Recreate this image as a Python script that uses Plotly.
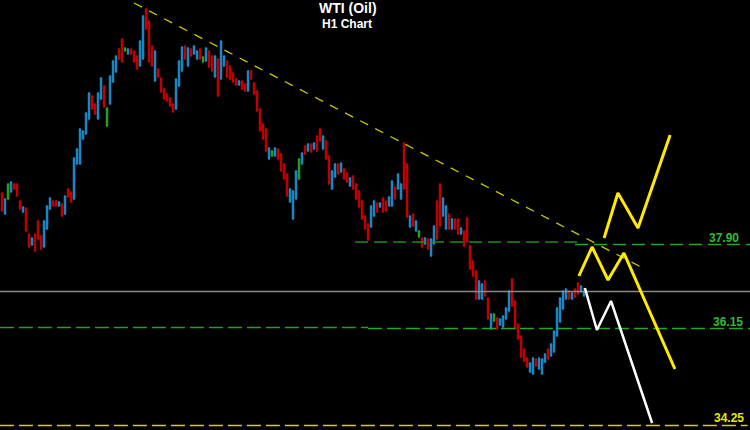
import plotly.graph_objects as go

# ---------------- data (H1 bars, index = hour number) ----------------
open_ = [38.88,38.46,38.76,38.90,39.06,39.06,38.72,38.50,38.58,38.06,37.84,38.06,38.32,38.02,37.80,38.16,38.56,38.72,38.72,38.62,
         38.66,38.46,38.96,38.90,38.76,39.46,39.46,39.96,40.06,40.36,40.82,40.66,40.36,40.76,41.02,40.22,40.66,41.10,41.30,41.76,
         41.96,41.72,41.66,41.76,41.72,41.62,41.42,41.56,42.56,42.32,41.82,41.12,41.36,41.18,40.96,40.86,40.78,40.66,40.56,41.02,
         41.32,41.82,41.42,41.76,41.66,41.56,41.76,41.50,41.52,41.72,41.62,41.20,41.56,41.16,41.42,41.52,41.42,41.28,41.16,41.04,
         41.12,41.06,40.92,41.32,41.08,40.92,40.56,40.26,40.16,39.56,39.62,39.62,39.76,39.66,39.46,39.26,38.70,38.36,38.76,39.16,
         39.46,39.82,39.72,39.86,39.76,40.02,40.16,39.76,39.92,39.62,38.96,39.20,39.46,39.30,39.36,39.28,39.02,39.22,39.06,38.92,
         38.72,38.42,38.26,38.20,38.42,38.68,38.60,38.78,38.72,38.62,38.62,39.00,38.96,38.76,39.88,39.46,38.20,38.46,38.12,38.00,
         37.98,37.86,37.96,37.62,37.86,38.72,39.06,38.42,38.16,38.46,38.16,38.36,38.36,38.06,38.12,38.38,37.82,37.52,37.32,36.76,
         36.76,37.12,36.78,36.16,36.32,36.38,36.24,36.20,36.36,36.52,37.16,36.72,36.26,36.02,35.76,35.58,35.30,35.26,35.56,35.36,
         35.26,35.50,35.76,35.62,35.70,36.02,36.30,36.56,36.76,36.92,36.76,36.96,37.08,36.90,36.82]
high = [38.90,38.78,39.08,39.12,39.08,39.08,38.74,38.62,38.60,38.08,38.00,38.08,38.34,38.04,38.34,38.64,38.80,38.74,38.74,38.72,
        38.68,38.84,38.98,38.92,39.60,39.78,40.18,40.14,40.50,40.90,40.84,40.68,40.90,41.20,41.04,40.60,41.24,41.54,41.64,41.78,
        41.98,41.80,41.78,41.78,41.74,41.64,41.94,42.44,42.58,42.34,41.84,41.74,41.38,41.20,40.98,40.88,40.80,40.68,41.18,41.54,
        41.82,41.84,41.80,41.78,41.84,41.74,41.78,41.62,41.80,41.74,41.64,41.64,41.58,41.94,41.64,41.54,41.44,41.30,41.18,41.14,
        41.14,41.08,41.34,41.34,41.10,40.94,40.58,40.28,40.18,39.80,39.74,39.80,39.78,39.68,39.48,39.28,38.98,38.94,39.34,39.58,
        39.70,39.84,39.88,39.88,39.90,40.04,40.18,40.04,39.94,39.64,39.34,39.48,39.48,39.50,39.38,39.30,39.20,39.24,39.08,38.94,
        38.74,38.44,38.28,38.64,38.74,38.70,38.70,38.80,38.74,38.82,39.14,39.02,39.28,39.08,39.90,39.48,38.44,38.48,38.34,38.14,
        38.00,38.00,37.98,37.98,38.24,38.74,39.08,38.80,38.64,38.48,38.38,38.38,38.38,38.20,38.14,38.40,37.84,37.54,37.34,37.14,
        37.08,37.14,36.80,36.48,36.48,36.40,36.38,36.44,36.60,36.94,37.18,36.74,36.28,36.04,35.78,35.60,35.50,35.60,35.58,35.60,
        35.58,35.68,35.78,35.88,36.14,36.60,36.80,36.94,36.98,36.94,36.90,36.98,37.10,37.04,36.98]
low = [38.50,38.44,38.74,38.88,38.94,38.80,38.54,38.48,38.10,37.78,37.82,37.70,37.94,37.74,37.78,38.14,38.54,38.60,38.60,38.60,
       38.40,38.44,38.78,38.68,38.74,39.44,39.44,39.94,40.04,40.34,40.54,40.44,40.34,40.74,40.58,40.20,40.64,41.08,41.28,41.54,
       41.48,41.70,41.64,41.64,41.48,41.34,41.40,41.54,42.14,41.48,41.40,41.10,41.18,40.88,40.74,40.70,40.60,40.48,40.54,41.00,
       41.30,41.54,41.40,41.60,41.64,41.54,41.54,41.48,41.50,41.38,41.30,41.18,40.80,41.14,41.40,41.18,41.14,41.08,41.02,41.02,
       40.94,40.90,40.90,41.14,40.84,40.50,40.10,39.94,39.70,39.54,39.60,39.60,39.54,39.30,39.14,38.80,38.68,38.34,38.74,39.14,
       39.44,39.64,39.70,39.68,39.74,39.70,39.90,39.74,39.54,39.04,38.94,39.18,39.24,39.28,39.14,39.08,39.00,38.94,38.74,38.58,
       38.34,38.14,37.92,38.18,38.40,38.48,38.58,38.48,38.50,38.60,38.60,38.74,38.94,38.74,38.94,38.38,38.18,38.20,38.10,37.98,
       37.78,37.84,37.74,37.60,37.84,37.94,38.20,38.40,38.14,38.14,38.14,38.14,38.04,38.04,37.80,37.88,37.34,37.20,36.74,36.74,
       36.74,36.80,36.34,36.14,36.30,36.14,36.22,36.18,36.34,36.50,36.60,36.14,35.94,35.58,35.50,35.38,35.28,35.24,35.40,35.34,
       35.24,35.48,35.54,35.60,35.68,36.00,36.28,36.54,36.74,36.74,36.74,36.78,36.84,36.88,36.80]
close = [38.52,38.76,39.06,39.10,38.96,38.82,38.56,38.60,38.12,37.80,37.98,37.72,37.96,37.76,38.32,38.62,38.78,38.62,38.62,38.70,
         38.42,38.82,38.80,38.70,39.58,39.76,40.16,40.12,40.48,40.88,40.56,40.46,40.88,41.18,40.60,40.58,41.22,41.52,41.62,41.56,
         41.50,41.78,41.76,41.66,41.50,41.36,41.92,42.42,42.16,41.50,41.42,41.72,41.20,40.90,40.76,40.72,40.62,40.50,41.16,41.52,
         41.80,41.56,41.78,41.62,41.82,41.72,41.56,41.60,41.78,41.40,41.32,41.62,40.82,41.92,41.62,41.20,41.16,41.10,41.04,41.12,
         40.96,40.92,41.32,41.16,40.86,40.52,40.12,39.96,39.72,39.78,39.72,39.78,39.56,39.32,39.16,38.82,38.96,38.92,39.32,39.56,
         39.68,39.66,39.86,39.70,39.88,39.72,39.92,40.02,39.56,39.06,39.32,39.46,39.26,39.48,39.16,39.10,39.18,38.96,38.76,38.60,
         38.36,38.16,37.94,38.62,38.72,38.50,38.68,38.50,38.52,38.80,39.12,38.76,39.26,39.06,38.96,38.40,38.42,38.22,38.32,38.12,
         37.80,37.98,37.76,37.96,38.22,37.96,38.22,38.78,38.62,38.16,38.36,38.16,38.06,38.18,37.82,37.90,37.36,37.22,36.76,37.12,
         37.06,36.82,36.36,36.46,36.46,36.16,36.36,36.42,36.58,36.92,36.62,36.16,35.96,35.60,35.52,35.40,35.48,35.58,35.42,35.58,
         35.56,35.66,35.56,35.86,36.12,36.58,36.78,36.92,36.96,36.76,36.88,36.80,36.86,37.02,36.91]
neutral_bars = [2, 35, 41, 67, 90, 99, 139, 164]

# projected paths: (bar index, price)
white_x = [194.3, 198.3, 203.0, 216.7]
white_y = [36.98, 36.14, 36.72, 34.28]
yellow_low_x = [192.3, 196.7, 202.0, 207.3, 224.3]
yellow_low_y = [37.22, 37.80, 37.14, 37.68, 35.36]
yellow_up_x = [200.7, 205.3, 212.0, 222.7]
yellow_up_y = [37.98, 38.88, 38.18, 40.04]

# trend line & levels
trend_x = [44.0, 213.0]
trend_y = [42.68, 37.40]
res_left_x, res_left_y = [117.7, 192.7], [37.90, 37.90]
res_right_x, res_right_y = [191.0, 249.4], [37.85, 37.85]
sup_left_x, sup_left_y = [-0.7, 122.0], [36.19, 36.19]
sup_right_x, sup_right_y = [122.0, 249.4], [36.17, 36.17]
target_x, target_y = [-0.7, 248.5], [34.23, 34.23]
last_x, last_y = [-0.7, 249.4], [36.91, 36.91]
level_labels = ["37.90", "36.15", "34.25"]
label_x = [240.7, 242.0, 242.3]
label_y = [37.98, 36.30, 34.38]

BLUE = "#1c8fd0"
RED = "#cc0000"
GREEN = "#22aa22"

n = len(close)
idx = list(range(n))
main = [i for i in idx if i not in neutral_bars]

fig = go.Figure()

fig.add_trace(go.Candlestick(
    x=main, open=[open_[i] for i in main], high=[high[i] for i in main],
    low=[low[i] for i in main], close=[close[i] for i in main],
    increasing=dict(line=dict(color=BLUE, width=1), fillcolor=BLUE),
    decreasing=dict(line=dict(color=RED, width=1), fillcolor=RED),
    whiskerwidth=0, showlegend=False, hoverinfo="skip"))
fig.add_trace(go.Candlestick(
    x=neutral_bars, open=[open_[i] for i in neutral_bars], high=[high[i] for i in neutral_bars],
    low=[low[i] for i in neutral_bars], close=[close[i] for i in neutral_bars],
    increasing=dict(line=dict(color=GREEN, width=1), fillcolor=GREEN),
    decreasing=dict(line=dict(color=GREEN, width=1), fillcolor=GREEN),
    whiskerwidth=0, showlegend=False, hoverinfo="skip"))

def seg(x, y, color, width, dash="solid"):
    fig.add_trace(go.Scatter(x=x, y=y, mode="lines", showlegend=False, hoverinfo="skip",
                             line=dict(color=color, width=width, dash=dash)))

seg(last_x, last_y, "#8a8a8a", 1.5)
seg(sup_left_x, sup_left_y, "#22a022", 1.5, "14px,5px")
seg(sup_right_x, sup_right_y, "#22a822", 1.5, "14px,5px")
seg(res_left_x, res_left_y, "#1f8a1f", 1.5, "13px,6px")
seg(res_right_x, res_right_y, "#22a822", 1.5, "13px,6px")
seg(target_x, target_y, "#d2d200", 1.5, "14px,5px")
seg(trend_x, trend_y, "#c8c800", 1.3, "9px,8px")
seg(white_x, white_y, "#ffffff", 2.5)
seg(yellow_low_x, yellow_low_y, "#ffea00", 3)
seg(yellow_up_x, yellow_up_y, "#ffea00", 3)

label_colors = ["#33bb33", "#33bb33", "#e8e800"]
for t, lx, ly, c in zip(level_labels, label_x, label_y, label_colors):
    fig.add_annotation(x=lx, y=ly, text=f"<b>{t}</b>", showarrow=False,
                       font=dict(family="Liberation Sans, Arial", size=12, color=c),
                       xanchor="center", yanchor="middle")

fig.add_annotation(x=348/750, y=1-8/430, xref="paper", yref="paper", text="<b>WTI (Oil)</b>",
                   showarrow=False, font=dict(family="Liberation Sans, Arial", size=14, color="white"),
                   xanchor="center", yanchor="middle")
fig.add_annotation(x=347/750, y=1-24.5/430, xref="paper", yref="paper", text="<b>H1 Chart</b>",
                   showarrow=False, font=dict(family="Liberation Sans, Arial", size=12, color="white"),
                   xanchor="center", yanchor="middle")

fig.update_layout(
    width=750, height=430, margin=dict(l=0, r=0, t=0, b=0),
    paper_bgcolor="#000000", plot_bgcolor="#000000",
    xaxis=dict(range=[-0.67, 249.33], visible=False, rangeslider=dict(visible=False), fixedrange=True),
    yaxis=dict(range=[34.14, 42.74], visible=False, fixedrange=True),
)

fig.write_html("out.html", config={"displayModeBar": False},
               post_script="document.body.style.margin='0';document.body.style.background='#000';document.body.style.overflow='hidden';")
